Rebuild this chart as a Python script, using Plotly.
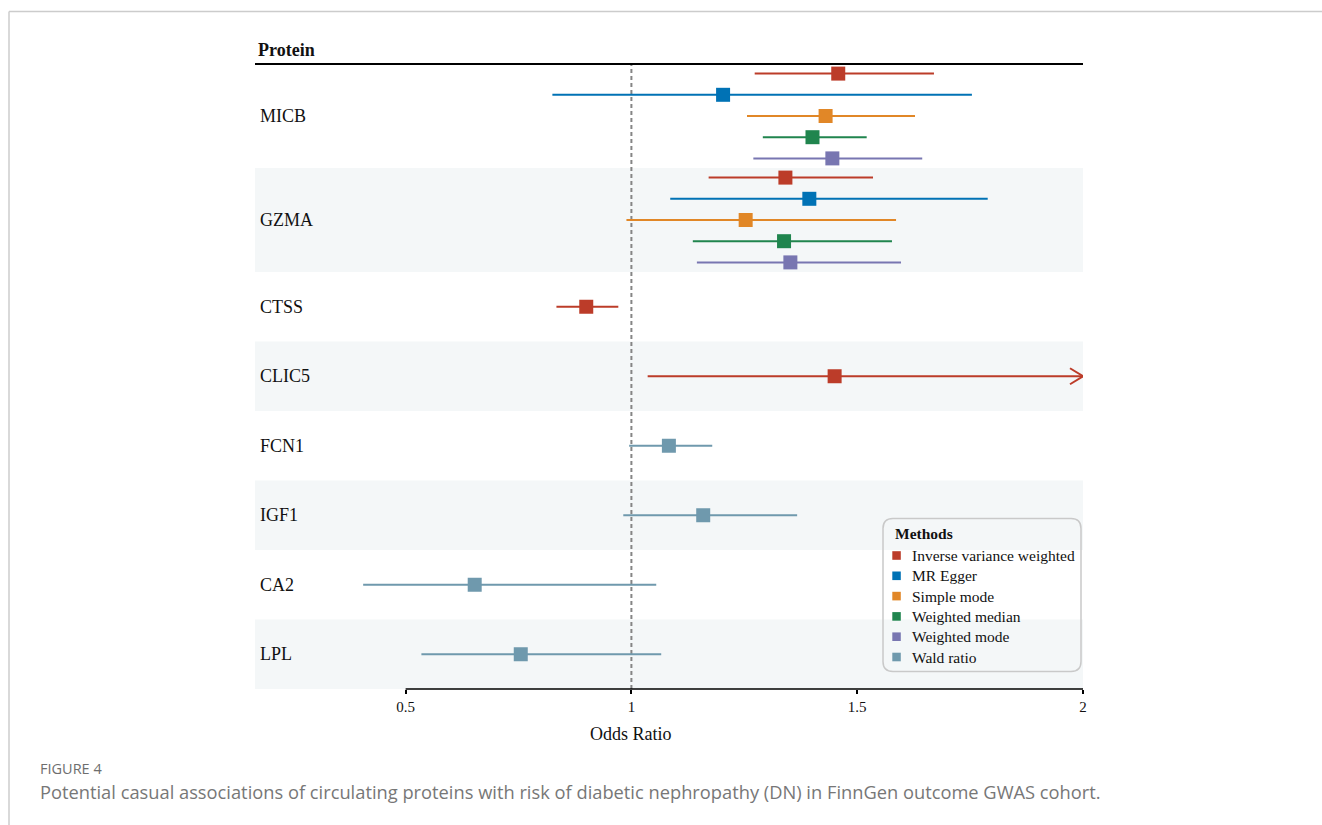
import plotly.graph_objects as go

# ---- data -------------------------------------------------------------
proteins = ["MICB", "GZMA", "CTSS", "CLIC5", "FCN1", "IGF1", "CA2", "LPL"]
methods = ["Inverse variance weighted", "MR Egger", "Simple mode",
           "Weighted median", "Weighted mode", "Wald ratio"]
method_colors = ["#BC3C29", "#0072B5", "#E18727", "#20854E", "#7876B1", "#6F99AD"]

row_protein = ["MICB"] * 5 + ["GZMA"] * 5 + ["CTSS", "CLIC5", "FCN1", "IGF1", "CA2", "LPL"]
row_method = methods[:5] * 2 + ["Inverse variance weighted", "Inverse variance weighted",
                                 "Wald ratio", "Wald ratio", "Wald ratio", "Wald ratio"]
odds_ratio = [1.458, 1.203, 1.430, 1.401, 1.445,
              1.341, 1.394, 1.253, 1.338, 1.352,
              0.900, 1.450, 1.083, 1.159, 0.653, 0.755]
ci_lower = [1.273, 0.825, 1.256, 1.291, 1.270,
            1.171, 1.086, 0.989, 1.136, 1.145,
            0.834, 1.036, 0.995, 0.982, 0.406, 0.535]
ci_upper = [1.670, 1.754, 1.628, 1.521, 1.644,
            1.535, 1.789, 1.586, 1.577, 1.597,
            0.971, 2.030, 1.179, 1.367, 1.055, 1.066]

x_ticks = [0.5, 1, 1.5, 2]
x_tick_labels = ["0.5", "1", "1.5", "2"]

# ---- layout geometry ---------------------------------------------------
W, H = 1322, 825
L, R, T, B = 255, 1083, 64, 689          # plot area in pixels
X_MIN, X_MAX = 0.1665, 2.0
PX_PER_UNIT = (R - L) / (X_MAX - X_MIN)
ROW_PITCH = 21.2                          # vertical spacing between methods
SINGLE_H = 69.5                           # height of a one-estimate block
MULTI_H = 104.0                           # height of a five-estimate block

SERIF = "Liberation Serif, Times New Roman, serif"
BAND = "#F4F7F8"


def px_x(px):
    return (px - L) / (R - L)


def px_y(py):
    return (B - py) / (B - T)


# vertical blocks, one per protein (y measured downward in pixels from top)
counts = [row_protein.count(p) for p in proteins]
heights = [MULTI_H if n > 1 else SINGLE_H for n in counts]
tops, acc = [], 0.0
for h in heights:
    tops.append(acc)
    acc += h
total_h = acc
centers = [t + h / 2 for t, h in zip(tops, heights)]

row_y = []
seen = {p: 0 for p in proteins}
for p in row_protein:
    gi = proteins.index(p)
    k = seen[p]
    n = counts[gi]
    row_y.append(centers[gi] + (k - (n - 1) / 2) * ROW_PITCH)
    seen[p] += 1

fig = go.Figure()

# confidence intervals + point estimates, one trace pair per method
for m, col in zip(methods, method_colors):
    idx = [i for i, rm in enumerate(row_method) if rm == m]
    if not idx:
        continue
    lx, ly = [], []
    for i in idx:
        lx += [ci_lower[i], min(ci_upper[i], X_MAX), None]
        ly += [row_y[i], row_y[i], None]
    fig.add_trace(go.Scatter(x=lx, y=ly, mode="lines",
                             line=dict(color=col, width=2),
                             showlegend=False, hoverinfo="skip",
                             cliponaxis=False))
    fig.add_trace(go.Scatter(x=[odds_ratio[i] for i in idx],
                             y=[row_y[i] for i in idx],
                             mode="markers", name=m,
                             marker=dict(symbol="square", size=14, color=col,
                                         line=dict(width=0)),
                             showlegend=False, cliponaxis=False))
    # open arrow heads for intervals running past the axis limit
    for i in idx:
        if ci_upper[i] > X_MAX:
            a = 13 / PX_PER_UNIT
            fig.add_trace(go.Scatter(x=[X_MAX - a, X_MAX, X_MAX - a],
                                     y=[row_y[i] - 8, row_y[i], row_y[i] + 8],
                                     mode="lines", line=dict(color=col, width=2),
                                     showlegend=False, hoverinfo="skip",
                                     cliponaxis=False))

shapes = []
# alternating background bands
for gi, (t, h) in enumerate(zip(tops, heights)):
    if gi % 2 == 1:
        shapes.append(dict(type="rect", xref="paper", yref="y", x0=0, x1=1,
                           y0=t, y1=t + h, fillcolor=BAND, line=dict(width=0),
                           layer="below"))
# reference line at OR = 1
shapes.append(dict(type="line", xref="x", yref="paper", x0=1, x1=1, y0=0, y1=1,
                   line=dict(color="#858585", width=2, dash="4px,3px"), layer="below"))
# header rule and x axis line
shapes.append(dict(type="line", xref="paper", yref="paper", x0=0, x1=1, y0=1, y1=1,
                   line=dict(color="black", width=2)))
shapes.append(dict(type="line", xref="x", yref="paper", x0=x_ticks[0], x1=x_ticks[-1],
                   y0=0, y1=0, line=dict(color="black", width=1.6)))

# legend box with rounded corners
bx0, bx1, by0, by1, rr = 883, 1081, 518.5, 671.5, 10
pts = [
    ("M", bx0 + rr, by0), ("L", bx1 - rr, by0), ("Q", bx1, by0, bx1, by0 + rr),
    ("L", bx1, by1 - rr), ("Q", bx1, by1, bx1 - rr, by1), ("L", bx0 + rr, by1),
    ("Q", bx0, by1, bx0, by1 - rr), ("L", bx0, by0 + rr), ("Q", bx0, by0, bx0 + rr, by0),
]
path = ""
for p in pts:
    cmd, coords = p[0], p[1:]
    xy = []
    for j in range(0, len(coords), 2):
        xy.append(f"{px_x(coords[j]):.5f},{px_y(coords[j + 1]):.5f}")
    path += cmd + " " + " ".join(xy) + " "
path += "Z"
shapes.append(dict(type="path", xref="paper", yref="paper", path=path,
                   line=dict(color="#c9c9c9", width=1.5), fillcolor="rgba(0,0,0,0)"))

annotations = []
# legend content
annotations.append(dict(text="<b>Methods</b>", xref="paper", yref="paper",
                        x=px_x(893), y=px_y(533.5), xanchor="left", yanchor="middle",
                        showarrow=False, font=dict(family=SERIF, size=15.5, color="#111")))
for k, (m, col) in enumerate(zip(methods, method_colors)):
    cy = 555.5 + k * 20.3
    shapes.append(dict(type="rect", xref="paper", yref="paper",
                       x0=px_x(892.3), x1=px_x(900.8), y0=px_y(cy - 4.3), y1=px_y(cy + 4.3),
                       fillcolor=col, line=dict(width=0)))
    annotations.append(dict(text=m, xref="paper", yref="paper",
                            x=px_x(909.5), y=px_y(cy), xanchor="left", yanchor="middle",
                            showarrow=False, font=dict(family=SERIF, size=15.5, color="#111")))

# protein labels and column header
for p, c in zip(proteins, centers):
    annotations.append(dict(text=p, xref="paper", yref="y", x=px_x(258), y=c,
                            xanchor="left", yanchor="middle", showarrow=False,
                            font=dict(family=SERIF, size=18, color="#111")))
annotations.append(dict(text="<b>Protein</b>", xref="paper", yref="paper",
                        x=px_x(256), y=px_y(50), xanchor="left", yanchor="middle",
                        showarrow=False, font=dict(family=SERIF, size=18, color="#111")))
annotations.append(dict(text="Odds Ratio", xref="x", yref="paper", x=1, y=px_y(734),
                        xanchor="center", yanchor="middle", showarrow=False,
                        font=dict(family=SERIF, size=18, color="#111")))

# figure caption
annotations.append(dict(text="FIGURE 4", xref="paper", yref="paper",
                        x=px_x(38), y=px_y(768), xanchor="left", yanchor="middle",
                        showarrow=False,
                        font=dict(family="Open Sans, sans-serif", size=14.5, color="#6e6e6e")))
annotations.append(dict(
    text="Potential casual associations of circulating proteins with risk of diabetic "
         "nephropathy (DN) in FinnGen outcome GWAS cohort.",
    xref="paper", yref="paper", x=px_x(38), y=px_y(791), xanchor="left", yanchor="middle",
    showarrow=False, font=dict(family="Open Sans, sans-serif", size=18.3, color="#777777")))

# page frame
shapes.append(dict(type="line", xref="paper", yref="paper",
                   x0=px_x(9), x1=px_x(W + 5), y0=px_y(11.5), y1=px_y(11.5),
                   line=dict(color="#cccccc", width=1.5)))
shapes.append(dict(type="line", xref="paper", yref="paper",
                   x0=px_x(9), x1=px_x(9), y0=px_y(11.5), y1=px_y(H + 5),
                   line=dict(color="#cccccc", width=1.5)))

fig.update_layout(
    width=W, height=H,
    margin=dict(l=L, r=W - R, t=T, b=H - B, pad=0),
    paper_bgcolor="white", plot_bgcolor="white",
    showlegend=False,
    shapes=shapes, annotations=annotations,
    xaxis=dict(range=[X_MIN, X_MAX], tickvals=x_ticks, ticktext=x_tick_labels,
               ticks="outside", ticklen=4, tickwidth=1.5, tickcolor="black",
               showgrid=False, zeroline=False, showline=False,
               tickfont=dict(family=SERIF, size=15, color="#111")),
    yaxis=dict(range=[total_h, 0], showgrid=False, zeroline=False, showline=False,
               showticklabels=False, ticks=""),
)

fig.write_html("out.html")
